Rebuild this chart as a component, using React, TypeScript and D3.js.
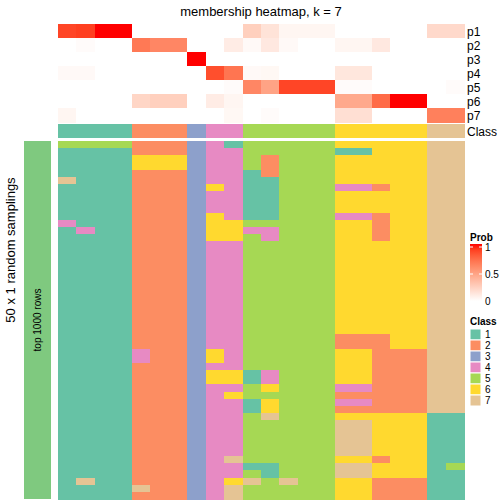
import React from "react";
import * as d3 from "d3";

// 22 samples (columns), ordered as in the chart
const samples = ["s01","s02","s03","s04","s05","s06","s07","s08","s09","s10","s11","s12","s13","s14","s15","s16","s17","s18","s19","s20","s21","s22"];

// membership probabilities per sample for each class
const p1 = [0.88,0.9,1,1,0,0,0,0,0,0,0.25,0.15,0.05,0.05,0.05,0,0,0,0,0,0.2,0.2];
const p2 = [0,0.02,0,0,0.68,0.62,0.62,0,0,0.1,0.03,0.12,0.03,0,0,0.05,0.05,0.12,0,0,0,0];
const p3 = [0,0,0,0,0,0,0,1,0,0,0,0,0,0,0,0,0,0,0,0,0,0];
const p4 = [0.03,0.03,0,0,0,0,0,0,0.85,0.7,0.03,0.04,0,0,0,0.13,0.13,0,0,0,0,0];
const p5 = [0,0,0,0,0,0,0,0,0,0.02,0.62,0.48,0.88,0.88,0.88,0.02,0.02,0,0,0,0,0.02];
const p6 = [0,0,0,0,0.22,0.25,0.25,0,0.1,0.05,0,0,0,0,0,0.45,0.45,0.74,1,1,0,0];
const p7 = [0.05,0,0,0,0,0,0,0,0,0.04,0,0.02,0,0,0,0.17,0.17,0,0,0,0.65,0.65];
const probRows = ["p1","p2","p3","p4","p5","p6","p7"];
const probValues = [p1,p2,p3,p4,p5,p6,p7];

// consensus class per sample
const sampleClass = [1,1,1,1,2,2,2,3,4,4,5,5,5,5,5,6,6,6,6,6,7,7];

// class assigned in each of 50 random samplings, one string per sample (rows 0..49, groups of 10)
const samplingClasses = [
  "5111171111 1411111111 1111111111 1111111111 1111111111",
  "5111111111 1141111111 1111111111 1111111111 1111111711",
  "5111111111 1111111111 1111111111 1111111111 1111111111",
  "5111111111 1111111111 1111111111 1111111111 1111111111",
  "2266222222 2222222222 2222222224 4222222222 2222222272",
  "2266222222 2222222222 2222222222 2222222222 2222222222",
  "2266222222 2222222222 2222222222 2222222222 2222222222",
  "3333333333 3333333333 3333333333 3333333333 3333333333",
  "4444446444 6666444444 4444444446 6466444444 4444444444",
  "1444444444 4666444444 4444444444 4466464444 4444744677",
  "5555111111 1545555555 5555555555 5511551155 5555515755",
  "5522211111 1544555555 5555555555 5544656675 5555511555",
  "5555555555 5555555555 5555555555 5555555555 5555555755",
  "5555555555 5555555555 5555555555 5555555555 5555555555",
  "5555555555 5555555555 5555555555 5555555555 5555555555",
  "6166664666 4666666666 6666666226 6666424267 7777677666",
  "6166664666 4666666666 6666666226 6666424267 7777677666",
  "6666662666 2222666666 6666666222 2222222266 6666266222",
  "6666666666 6666666666 6666666662 2222222266 6666666222",
  "6666666666 6666666666 6666666662 2222222266 6666666222",
  "7777777777 7777777777 7777777777 7777777711 1111111111",
  "7777777777 7777777777 7777777777 7777777711 1111151111",
];

const classLabels = ["1","2","3","4","5","6","7"];
const classColors = ["#66C2A5","#FC8D62","#8DA0CB","#E78AC3","#A6D854","#FFD92F","#E5C494"];
const probTicks = [0, 0.5, 1];

const FONT = "'Liberation Sans', Arial, Helvetica, sans-serif";

export default function App() {
  const W = 504, H = 504;
  const left = 58, right = 464;
  const nSamp = 50;
  const samplingIds = d3.range(nSamp).map(String);

  const x = d3.scaleBand<string>().domain(samples).range([left, right]);
  const yTop = d3.scaleBand<string>().domain(probRows).range([24, 122]);
  const yMain = d3.scaleBand<string>().domain(samplingIds).range([141, 499]);
  const probColor = d3.scaleLinear<string>().domain([0, 1]).range(["#FFFFFF", "#FF0000"]).interpolate(d3.interpolateLab);
  const classColor = d3.scaleOrdinal<string, string>().domain(classLabels).range(classColors);

  const grid = samplingClasses.map((s) => s.replace(/\s/g, "").split(""));

  const legBarTop = 244, legBarBot = 301;
  const yLeg = d3.scaleLinear().domain([0, 1]).range([legBarBot, legBarTop + 3]);
  const gradStops = d3.range(0, 1.0001, 0.1);

  return (
    <svg width={W} height={H} style={{ position: "absolute", left: 0, top: 0 }} fontFamily={FONT}>
      <defs>
        <linearGradient id="probGrad" x1="0" y1="1" x2="0" y2="0">
          {gradStops.map((t) => (
            <stop key={t} offset={`${t * 100}%`} stopColor={probColor(t)} />
          ))}
        </linearGradient>
      </defs>
      <rect x={0} y={0} width={W} height={H} fill="#FFFFFF" />
      <text x={(left + right) / 2} y={16} textAnchor="middle" fontSize={13}>membership heatmap, k = 7</text>

      {/* membership probabilities */}
      <g shapeRendering="crispEdges">
        {probRows.map((r, ri) =>
          samples.map((s, si) => (
            <rect key={r + s} x={x(s)} y={yTop(r)} width={x.bandwidth() + 0.5} height={yTop.bandwidth() + 0.5} fill={probColor(probValues[ri][si])} />
          ))
        )}
        {samples.map((s, si) => (
          <rect key={"c" + s} x={x(s)} y={124} width={x.bandwidth() + 0.5} height={14} fill={classColor(String(sampleClass[si]))} />
        ))}
      </g>
      {probRows.map((r) => (
        <text key={"l" + r} x={467} y={(yTop(r) as number) + yTop.bandwidth() / 2 + 4.5} fontSize={12}>{r}</text>
      ))}
      <text x={467} y={135.5} fontSize={12}>Class</text>

      {/* main heatmap */}
      <g shapeRendering="crispEdges">
        {samples.map((s, si) =>
          samplingIds.map((id, ri) => (
            <rect key={s + id} x={x(s)} y={yMain(id)} width={x.bandwidth() + 0.5} height={yMain.bandwidth() + 0.5} fill={classColor(grid[si][ri])} />
          ))
        )}
      </g>

      {/* left annotation */}
      <rect x={24} y={141} width={27} height={358} fill="#7FC97F" />
      <text transform="translate(41,320) rotate(-90)" textAnchor="middle" fontSize={10}>top 1000 rows</text>
      <text transform="translate(15,250) rotate(-90)" textAnchor="middle" fontSize={13}>50 x 1 random samplings</text>

      {/* Prob legend */}
      <text x={470} y={241} fontSize={10} fontWeight="bold">Prob</text>
      <rect x={470} y={legBarTop} width={12} height={legBarBot - legBarTop} fill="url(#probGrad)" />
      {probTicks.map((t) => (
        <g key={"t" + t}>
          {t > 0 && t < 1.01 && (
            <>
              <line x1={470} x2={473} y1={yLeg(t)} y2={yLeg(t)} stroke="#FFFFFF" strokeWidth={1} />
              <line x1={479} x2={482} y1={yLeg(t)} y2={yLeg(t)} stroke="#FFFFFF" strokeWidth={1} />
            </>
          )}
          <text x={485} y={yLeg(t) + 3.5} fontSize={10}>{String(t)}</text>
        </g>
      ))}

      {/* Class legend */}
      <text x={470} y={325} fontSize={10} fontWeight="bold">Class</text>
      {classLabels.map((c, i) => (
        <g key={"cl" + c}>
          <rect x={470} y={329 + i * 11} width={11} height={11} fill={classColor(c)} stroke="#FFFFFF" strokeWidth={1} />
          <text x={485} y={329 + i * 11 + 9} fontSize={10}>{c}</text>
        </g>
      ))}
    </svg>
  );
}
